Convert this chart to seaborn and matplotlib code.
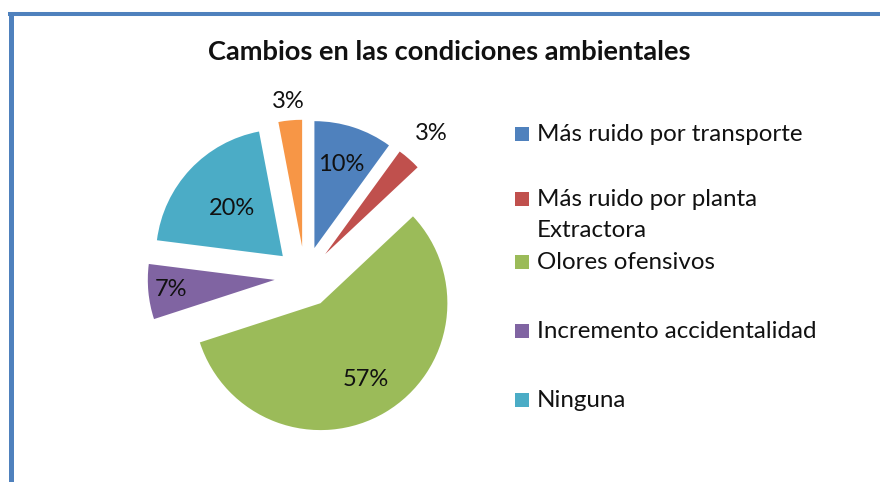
import matplotlib
matplotlib.use("Agg")
import matplotlib.pyplot as plt
import seaborn as sns
import numpy as np
from matplotlib.patches import Rectangle
from matplotlib.lines import Line2D

# --- datos ---
categorias = ["Más ruido por transporte", "Más ruido por planta\nExtractora",
              "Olores ofensivos", "Incremento accidentalidad", "Ninguna", ""]
porcentajes = [10, 3, 57, 7, 20, 3]
colores = ["#4F81BD", "#C0504D", "#9BBB59", "#8064A2", "#4BACC6", "#F79646"]

# distancia de cada etiqueta al vértice de su porción (en radios)
dist_etiquetas = [0.69, 1.27, 0.70, 0.82, 0.55, 1.15]

sns.set_theme(style="white")
plt.rcParams["font.family"] = ["Lato", "DejaVu Sans"]

W, H = 880, 482
fig = plt.figure(figsize=(W / 100, H / 100), dpi=100)

# pie centrado en (305, 277) px, 1 unidad = 127 px
cx, cy, half = 305, 277, 203
ax = fig.add_axes([(cx - half) / W, (H - cy - half) / H, 2 * half / W, 2 * half / H])
wedges, _, pcts = ax.pie(porcentajes, colors=colores, startangle=90, counterclock=False,
                         explode=[0.24] * len(porcentajes), radius=1,
                         autopct=lambda p: f"{p:.0f}%",
                         wedgeprops=dict(linewidth=0),
                         textprops=dict(fontsize=17, color="#111111"))
for w, t, d in zip(wedges, pcts, dist_etiquetas):
    ang = np.deg2rad((w.theta1 + w.theta2) / 2)
    x0, y0 = w.center
    t.set_position((x0 + d * w.r * np.cos(ang), y0 + d * w.r * np.sin(ang)))
    t.set_ha("center")
    t.set_va("center")
ax.set_xlim(-1.6, 1.6)
ax.set_ylim(-1.6, 1.6)
ax.axis("off")

# --- título ---
fig.text(449.5 / W, 1 - 52 / H, "Cambios en las condiciones ambientales",
         ha="center", va="center", fontsize=19.6, fontweight="bold", color="#111111")

# --- leyenda (solo las primeras cinco categorías) ---
baselines = [140.7, 206, 269, 338, 407]
paso_linea = 30.7
for nombre, color, yb in zip(categorias[:5], colores[:5], baselines):
    fig.add_artist(Rectangle((515 / W, 1 - yb / H), 14 / W, 14 / H,
                             transform=fig.transFigure, facecolor=color, edgecolor="none"))
    lineas = nombre.split("\n")
    for i, linea in enumerate(lineas):
        fig.text(537 / W, 1 - (yb + i * paso_linea) / H, linea, ha="left", va="baseline",
                 fontsize=17.4, color="#111111")

# --- marco azul ---
azul = "#4F81BD"
fig.add_artist(Line2D([10.5 / W, 10.5 / W], [0, 1 - 13.5 / H], transform=fig.transFigure,
                      color=azul, lw=3.6, solid_capstyle="butt"))
fig.add_artist(Line2D([8 / W, 1], [1 - 13.5 / H, 1 - 13.5 / H], transform=fig.transFigure,
                      color=azul, lw=2.9, solid_capstyle="butt"))

plt.savefig("out.png", dpi=100)
plt.close()
